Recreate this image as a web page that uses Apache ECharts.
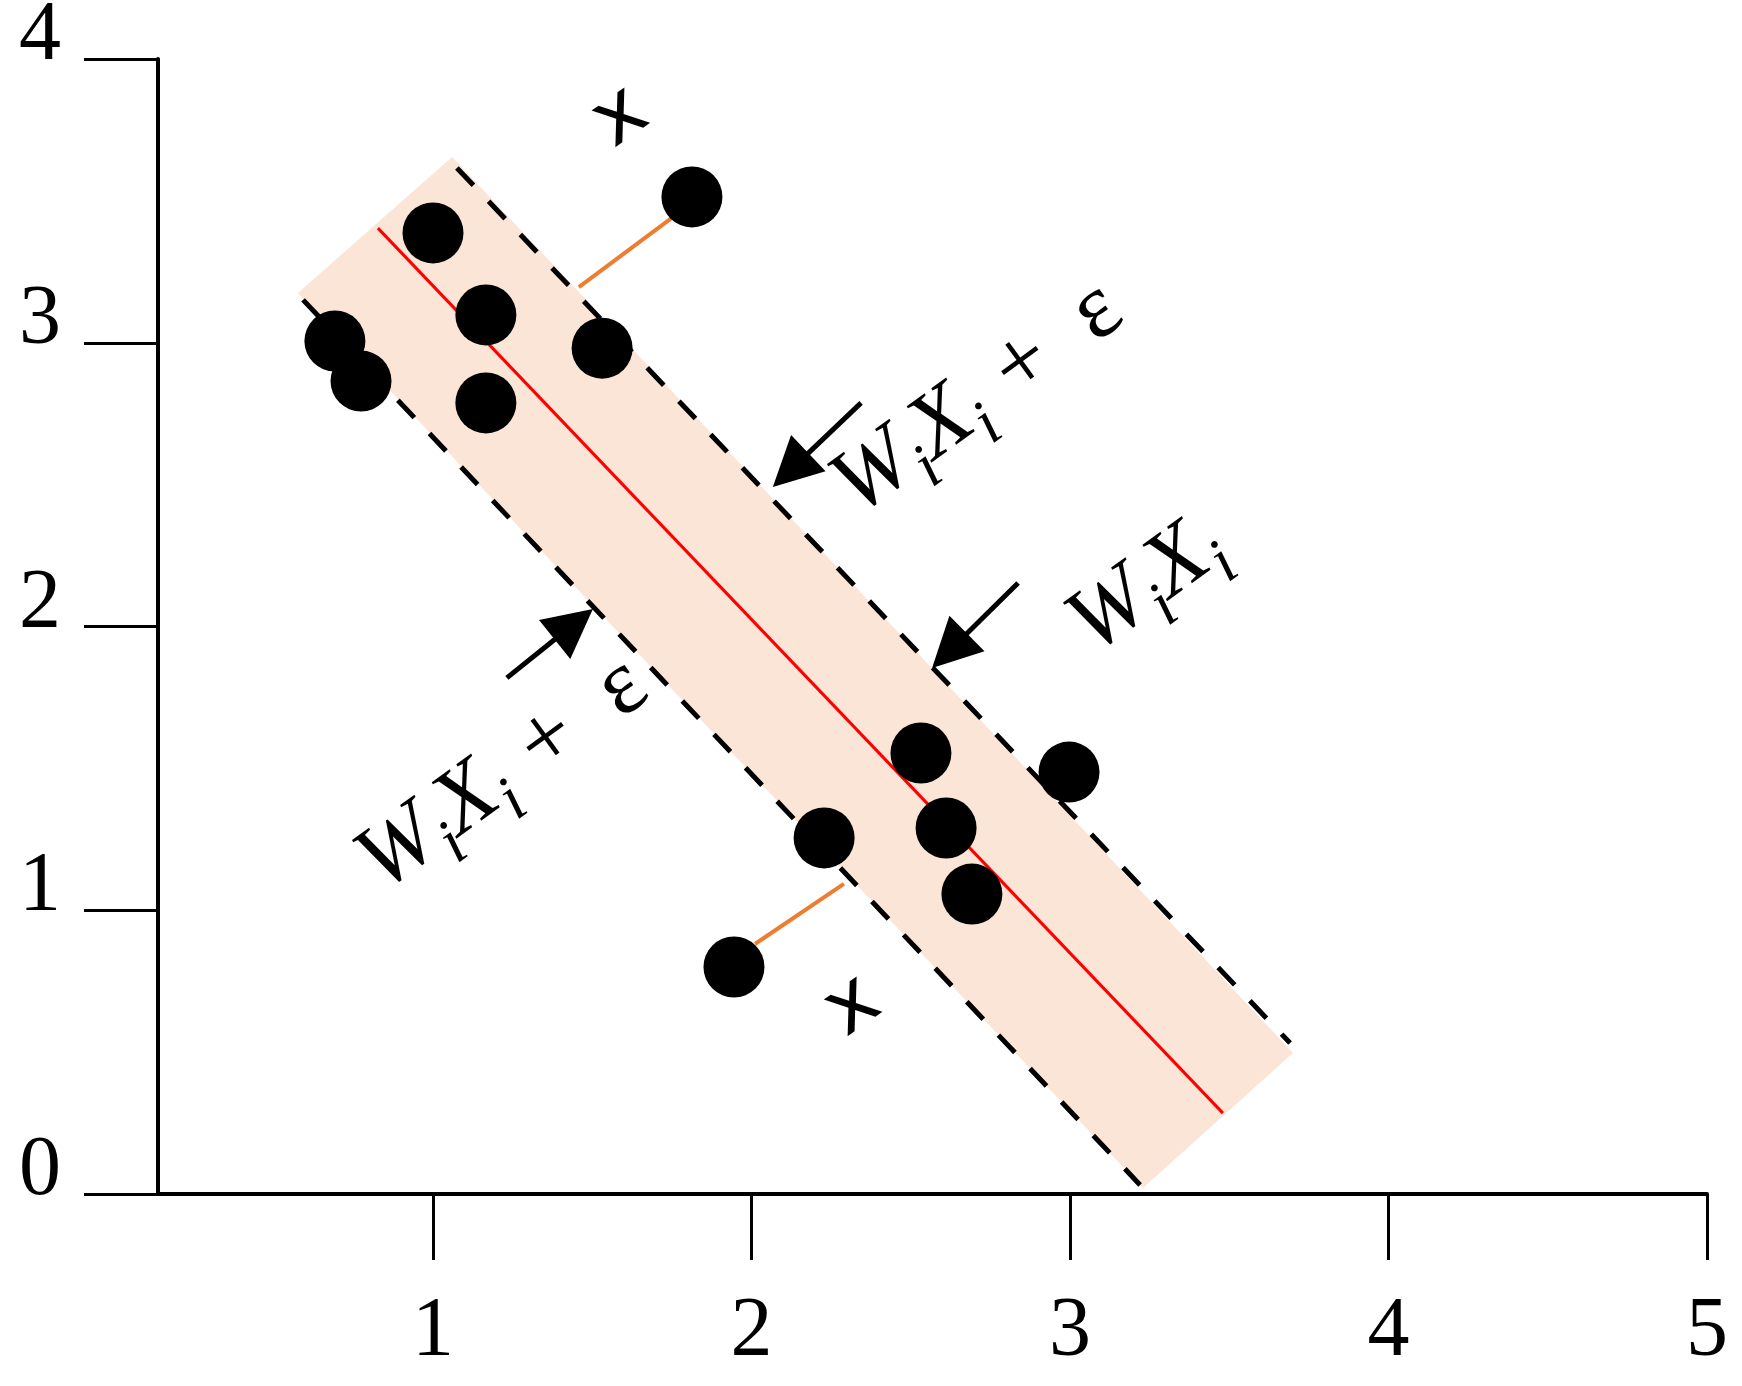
<!DOCTYPE html>
<html>
<head>
<meta charset="utf-8">
<script src="https://cdn.jsdelivr.net/npm/echarts@6/dist/echarts.min.js"></script>
<style>
html,body{margin:0;padding:0;background:#fff;}
#chart{width:1742px;height:1386px;}
</style>
</head>
<body>
<div id="chart"></div>
<script>
// ---- data ----
const xTicks = [1, 2, 3, 4, 5];
const yTicks = [0, 1, 2, 3, 4];

const pointX = [1.000, 0.692, 0.774, 1.166, 1.166, 1.531, 1.813, 2.228, 1.945, 2.532, 2.611, 2.692, 2.997];
const pointY = [3.387, 3.006, 2.865, 3.098, 2.788, 2.981, 3.514, 1.255, 0.800, 1.554, 1.290, 1.057, 1.487];

const bandX = [1.060, 3.700, 3.229, 0.576];
const bandY = [3.655, 0.497, 0.021, 3.175];

const upperMarginX = [1.075, 3.691];
const upperMarginY = [3.616, 0.532];
const lowerMarginX = [0.592, 3.220];
const lowerMarginY = [3.151, 0.032];
const regressionX = [0.827, 3.480];
const regressionY = [3.404, 0.285];

const slackUpperX = [1.458, 1.750];
const slackUpperY = [3.196, 3.440];
const slackLowerX = [2.011, 2.290];
const slackLowerY = [0.881, 1.093];

const arrowFromX = [2.344, 2.837, 1.232];
const arrowFromY = [2.788, 2.153, 1.819];
const arrowToX = [2.067, 2.567, 1.502];
const arrowToY = [2.492, 1.854, 2.062];

const labelX = [2.711, 3.242, 1.220];
const labelY = [2.802, 2.143, 1.477];
const labelText = [
  '{w|W}{s|i}{w|X}{s|i}{w| + \u2009}{e|ε}',
  '{w|W}{s|i}{w|X}{s|i}',
  '{w|W}{s|i}{w|X}{s|i}{w| + \u2009}{e|ε}'
];

const xiX = [1.590, 2.319];
const xiY = [3.792, 0.659];
const xiText = ['x', 'x'];

// ---- chart ----
const zip = (a, b) => a.map((v, i) => [v, b[i]]);
const chart = echarts.init(document.getElementById('chart'), null, {renderer: 'canvas'});

const serifFont = 'Liberation Serif';
const textAngle = 36 * Math.PI / 180;
const xiAngle = 35 * Math.PI / 180;

const rich = {
  w: {fontFamily: serifFont, fontStyle: 'italic', fontSize: 92, lineHeight: 120, fill: '#000', color: '#000'},
  s: {fontFamily: serifFont, fontStyle: 'italic', fontSize: 64, lineHeight: 64, verticalAlign: 'bottom', fill: '#000', color: '#000'},
  e: {fontFamily: serifFont, fontSize: 92, lineHeight: 120, fill: '#000', color: '#000'}
};

const option = {
  backgroundColor: '#fff',
  animation: false,
  grid: {left: 158, right: 35, top: 59, bottom: 192, containLabel: false, outerBoundsMode: 'none'},
  xAxis: {
    type: 'value', min: 0.1366, max: 5,
    axisLine: {show: true, onZero: false, lineStyle: {color: '#000', width: 4}},
    axisTick: {show: true, customValues: xTicks, length: 66, lineStyle: {color: '#000', width: 3}},
    axisLabel: {show: true, customValues: xTicks, margin: 97, fontSize: 84, fontFamily: serifFont, color: '#000'},
    splitLine: {show: false}
  },
  yAxis: {
    type: 'value', min: 0, max: 4, interval: 1,
    axisLine: {show: true, onZero: false, lineStyle: {color: '#000', width: 4}},
    axisTick: {show: true, length: 74, lineStyle: {color: '#000', width: 3}},
    axisLabel: {show: true, margin: 97, fontSize: 84, fontFamily: serifFont, color: '#000',
      verticalAlign: 'bottom', lineHeight: 44, showMinLabel: true, showMaxLabel: true},
    splitLine: {show: false}
  },
  series: [
    {
      type: 'custom', name: 'band', z: 1, silent: true,
      data: zip(bandX, bandY),
      renderItem: function (params, api) {
        if (params.dataIndex !== 0) return null;
        const pts = bandX.map((x, i) => api.coord([x, bandY[i]]));
        return {type: 'polygon', shape: {points: pts}, style: {fill: '#FBE5D6'}};
      }
    },
    {
      type: 'line', name: 'upper', z: 2, silent: true, symbol: 'none',
      data: zip(upperMarginX, upperMarginY),
      lineStyle: {color: '#000', width: 5, type: [24, 22]}
    },
    {
      type: 'line', name: 'lower', z: 2, silent: true, symbol: 'none',
      data: zip(lowerMarginX, lowerMarginY),
      lineStyle: {color: '#000', width: 5, type: [24, 22]}
    },
    {
      type: 'line', name: 'regression', z: 3, silent: true, symbol: 'none',
      data: zip(regressionX, regressionY),
      lineStyle: {color: '#FF0000', width: 3}
    },
    {
      type: 'line', name: 'slackUpper', z: 3, silent: true, symbol: 'none',
      data: zip(slackUpperX, slackUpperY),
      lineStyle: {color: '#ED7D31', width: 4}
    },
    {
      type: 'line', name: 'slackLower', z: 3, silent: true, symbol: 'none',
      data: zip(slackLowerX, slackLowerY),
      lineStyle: {color: '#ED7D31', width: 4}
    },
    {
      type: 'scatter', name: 'points', z: 4, silent: true,
      symbol: 'circle', symbolSize: 61,
      itemStyle: {color: '#000', opacity: 1},
      data: zip(pointX, pointY)
    },
    {
      type: 'custom', name: 'arrows', z: 5, silent: true,
      data: arrowFromX.map((x, i) => [x, arrowFromY[i], arrowToX[i], arrowToY[i]]),
      encode: {x: [0, 2], y: [1, 3]},
      renderItem: function (params, api) {
        const p0 = api.coord([api.value(0), api.value(1)]);
        const p1 = api.coord([api.value(2), api.value(3)]);
        const dx = p1[0] - p0[0], dy = p1[1] - p0[1];
        const len = Math.sqrt(dx * dx + dy * dy);
        const ux = dx / len, uy = dy / len;
        const hl = 49, hw = 25;
        const bx = p1[0] - ux * hl, by = p1[1] - uy * hl;
        return {
          type: 'group',
          children: [
            {type: 'line', shape: {x1: p0[0], y1: p0[1], x2: bx + ux * 4, y2: by + uy * 4},
              style: {stroke: '#000', lineWidth: 5}},
            {type: 'polygon', shape: {points: [[p1[0], p1[1]], [bx - uy * hw, by + ux * hw], [bx + uy * hw, by - ux * hw]]},
              style: {fill: '#000'}}
          ]
        };
      }
    },
    {
      type: 'custom', name: 'labels', z: 6, silent: true,
      data: zip(labelX, labelY),
      renderItem: function (params, api) {
        const p = api.coord([api.value(0), api.value(1)]);
        return {
          type: 'text', x: p[0], y: p[1], rotation: textAngle,
          style: {text: labelText[params.dataIndex], rich: rich, align: 'center', verticalAlign: 'middle', fill: '#000'}
        };
      }
    },
    {
      type: 'custom', name: 'xi', z: 6, silent: true,
      data: zip(xiX, xiY),
      renderItem: function (params, api) {
        const p = api.coord([api.value(0), api.value(1)]);
        return {
          type: 'text', x: p[0], y: p[1], rotation: xiAngle,
          style: {text: xiText[params.dataIndex], font: 'normal 80px "DejaVu Sans", sans-serif',
            align: 'center', verticalAlign: 'middle', fill: '#000'}
        };
      }
    }
  ]
};
chart.setOption(option);
</script>
</body>
</html>
